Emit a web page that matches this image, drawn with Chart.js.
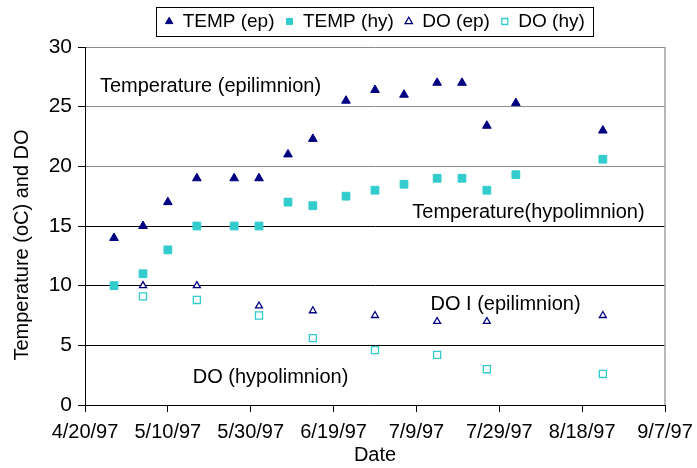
<!DOCTYPE html>
<html>
<head>
<meta charset="utf-8">
<script src="https://cdn.jsdelivr.net/npm/chart.js@4.4.1/dist/chart.umd.min.js"></script>
<style>
    body { margin: 0; background: #fff; }
</style>
</head>
<body>
<canvas id="chart" width="697" height="468"></canvas>
<script>
"use strict";

const DAY = 86400000;
const toDay = (s) => Date.parse(s + 'T00:00:00Z') / DAY;

// sampling dates and readings
const dates = ['1997-04-27', '1997-05-04', '1997-05-10', '1997-05-17', '1997-05-26', '1997-06-01',
    '1997-06-08', '1997-06-14', '1997-06-22', '1997-06-29', '1997-07-06', '1997-07-14',
    '1997-07-20', '1997-07-26', '1997-08-02', '1997-08-23'];
const tempEp = [14, 15, 17, 19, 19, 19, 21, 22.3, 25.5, 26.4, 26, 27, 27, 23.4, 25.3, 23];
const tempHy = [10, 11, 13, 15, 15, 15, 17, 16.7, 17.5, 18, 18.5, 19, 19, 18, 19.3, 20.6];
const doEp = [null, 10, null, 10, null, 8.3, null, 7.9, null, 7.5, null, 7.0, null, 7.0, null, 7.5];
const doHy = [null, 9.1, null, 8.8, null, 7.5, null, 5.6, null, 4.6, null, 4.2, null, 3.0, null, 2.6];

const xStart = '1997-04-20';
const xEnd = '1997-09-07';
const xStepDays = 20;
const yTicks = [0, 5, 10, 15, 20, 25, 30];

// text labels inside the plot: [text, days after xStart, y value]
const notes = [
    ['Temperature (epilimnion)', 3.6, 26.7],
    ['Temperature(hypolimnion)', 79, 16.1],
    ['DO I (epilimnion)', 83.4, 8.45],
    ['DO (hypolimnion)', 26, 2.3]
];

const FONT = '"Liberation Sans", Arial, sans-serif';
const NAVY = '#000080';
const CYAN = '#33CCCC';

function points(values) {
    const out = [];
    values.forEach((v, i) => {
        if (v !== null) out.push({ x: toDay(dates[i]), y: v });
    });
    return out;
}

const frame = {
    id: 'frame',
    afterLayout(chart) {
        // centre the legend over the plot area like the original
        const lg = chart.legend;
        lg.left = chart.chartArea.left;
        lg.right = chart.chartArea.right;
        lg.width = lg.right - lg.left;
        lg.top -= 6;
        lg.bottom -= 6;
    },
    afterDraw(chart) {
        const ctx = chart.ctx;
        const a = chart.chartArea;
        const xs = chart.scales.x;
        const ys = chart.scales.y;
        ctx.save();

        // right border of the plot
        ctx.strokeStyle = '#a0a0a0';
        ctx.lineWidth = 1.5;
        ctx.beginPath();
        ctx.moveTo(a.right, a.top);
        ctx.lineTo(a.right, a.bottom);
        ctx.stroke();

        // legend box
        const hb = chart.legend.legendHitBoxes;
        const last = hb[hb.length - 1];
        ctx.strokeStyle = '#000';
        ctx.lineWidth = 1;
        ctx.strokeRect(Math.round(hb[0].left - 9) + 0.5, 7.5,
            Math.round(last.left + last.width - hb[0].left + 17), 29);

        // notes
        ctx.fillStyle = '#000';
        ctx.font = '20px ' + FONT;
        ctx.textAlign = 'left';
        ctx.textBaseline = 'middle';
        const x0 = toDay(xStart);
        notes.forEach(([t, d, v]) => {
            ctx.fillText(t, xs.getPixelForValue(x0 + d), ys.getPixelForValue(v));
        });

        // y axis title
        ctx.translate(22, 245);
        ctx.rotate(-Math.PI / 2);
        ctx.textAlign = 'center';
        ctx.fillText('Temperature (oC) and DO', 0, 0);
        ctx.restore();
    }
};

new Chart(document.getElementById('chart'), {
    type: 'scatter',
    data: {
        datasets: [
            {
                label: 'TEMP (ep)',
                data: points(tempEp),
                pointStyle: 'triangle',
                pointRadius: 5,
                backgroundColor: NAVY,
                borderColor: NAVY,
                borderWidth: 1
            },
            {
                label: 'TEMP (hy)',
                data: points(tempHy),
                pointStyle: 'rect',
                pointRadius: 5.5,
                backgroundColor: CYAN,
                borderColor: CYAN,
                borderWidth: 1
            },
            {
                label: 'DO (ep)',
                data: points(doEp),
                pointStyle: 'triangle',
                pointRadius: 4,
                backgroundColor: '#fff',
                borderColor: NAVY,
                borderWidth: 1.3
            },
            {
                label: 'DO (hy)',
                data: points(doHy),
                pointStyle: 'rect',
                pointRadius: 5,
                backgroundColor: '#fff',
                borderColor: CYAN,
                borderWidth: 1.3
            }
        ]
    },
    options: {
        responsive: false,
        animation: false,
        events: [],
        layout: {
            padding: { top: 7, right: 32, left: 0, bottom: 0 }
        },
        plugins: {
            tooltip: { enabled: false },
            legend: {
                position: 'top',
                align: 'center',
                labels: {
                    usePointStyle: true,
                    boxWidth: 8,
                    boxHeight: 6,
                    padding: 11,
                    color: '#000',
                    font: { family: FONT, size: 19 }
                }
            }
        },
        scales: {
            x: {
                type: 'linear',
                min: toDay(xStart),
                max: toDay(xEnd),
                afterFit: (axis) => {
                    axis.height = 63;
                    axis.paddingRight = 28;
                },
                border: { color: '#000', width: 1 },
                grid: {
                    drawOnChartArea: false,
                    drawTicks: true,
                    tickLength: 7,
                    color: '#000'
                },
                ticks: {
                    stepSize: xStepDays,
                    autoSkip: false,
                    maxRotation: 0,
                    padding: 8,
                    color: '#000',
                    font: { family: FONT, size: 20 },
                    callback: (v) => {
                        const d = new Date(v * DAY);
                        return (d.getUTCMonth() + 1) + '/' + d.getUTCDate() + '/97';
                    }
                },
                title: {
                    display: true,
                    text: 'Date',
                    color: '#000',
                    font: { family: FONT, size: 20 },
                    padding: { top: 0, bottom: 1 }
                }
            },
            y: {
                min: yTicks[0],
                max: yTicks[yTicks.length - 1],
                afterFit: (axis) => { axis.width = 85; },
                afterBuildTicks: (axis) => { axis.ticks = yTicks.map((v) => ({ value: v })); },
                border: { color: '#000', width: 1 },
                grid: {
                    color: (c) => (c.tick && c.tick.value >= 20 ? '#8c8c8c' : '#000'),
                    tickColor: '#000',
                    tickLength: 7,
                    lineWidth: 1
                },
                ticks: {
                    padding: 6,
                    color: '#000',
                    font: { family: FONT, size: 21 }
                }
            }
        }
    },
    plugins: [frame]
});
</script>
</body>
</html>
